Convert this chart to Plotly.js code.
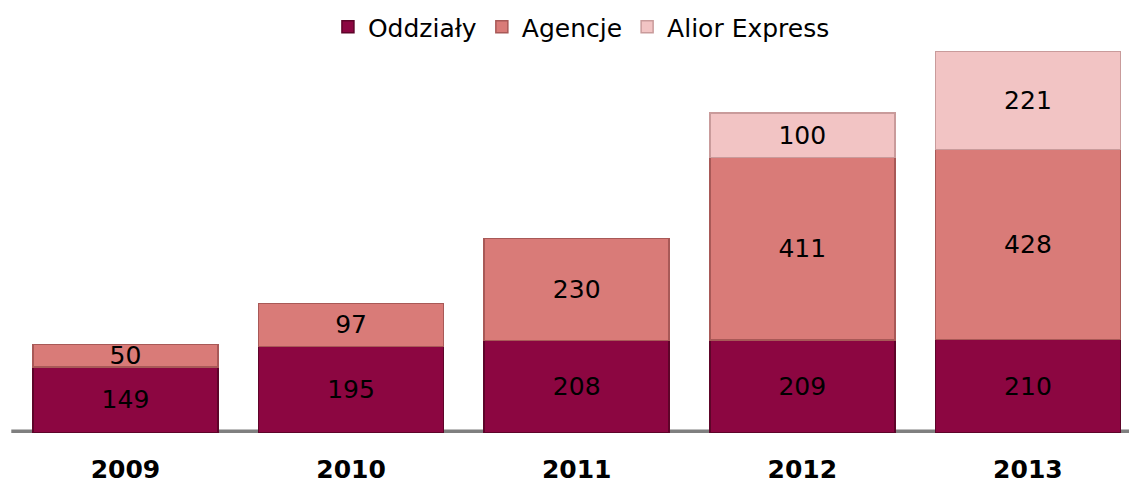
<!DOCTYPE html>
<html>
<head>
<meta charset="utf-8">
<script src="https://cdn.plot.ly/plotly-3.0.1.min.js"></script>
<style>html,body{margin:0;padding:0;background:#fff;}#chart{width:1129px;height:483px;}</style>
</head>
<body>
<div id="chart"></div>
<script>
const years = ["2009", "2010", "2011", "2012", "2013"];
const oddzialy = [149, 195, 208, 209, 210];
const agencje = [50, 97, 230, 411, 428];
const aliorExpress = [null, null, null, 100, 221];
const seriesNames = ["Oddziały", "Agencje", "Alior Express"];

const fills = ["#8C0641", "#D97B78", "#F2C4C4"];
const edges = ["#5E0429", "#A85957", "#C99B9B"];
const seriesVals = [oddzialy, agencje, aliorExpress];

const traces = seriesVals.map((vals, i) => ({
  type: "bar",
  name: seriesNames[i],
  x: years,
  y: vals,
  width: 0.82,
  marker: {color: fills[i], line: {color: edges[i], width: 1.5}},
  text: vals.map(v => v == null ? "" : String(v)),
  textposition: "inside",
  insidetextanchor: "middle",
  textangle: 0,
  constraintext: "none",
  textfont: {family: "DejaVu Sans, Verdana, sans-serif", size: 25, color: "#000"},
  hoverinfo: "skip"
}));

const layout = {
  width: 1129,
  height: 483,
  barmode: "stack",
  bargap: 0.18,
  margin: {l: 0, r: 0, t: 50, b: 50},
  paper_bgcolor: "#fff",
  plot_bgcolor: "#fff",
  showlegend: true,
  legend: {
    orientation: "h",
    x: 0.515, xanchor: "center",
    y: 1.06, yanchor: "middle",
    font: {family: "DejaVu Sans, Verdana, sans-serif", size: 25, color: "#000"},
    itemwidth: 30,
    tracegroupgap: 0,
    traceorder: "normal"
  },
  xaxis: {
    type: "category",
    range: [-0.556, 4.448],
    showgrid: false,
    zeroline: false,
    showline: false,
    ticks: "outside",
    ticklen: 14,
    tickcolor: "rgba(0,0,0,0)",
    tickfont: {family: "DejaVu Sans, Verdana, sans-serif", size: 25, color: "#000", weight: "bold"}
  },
  yaxis: {
    range: [0, 862],
    visible: false,
    showgrid: false,
    zeroline: false
  },
  shapes: [{
    type: "line",
    xref: "paper", yref: "y",
    x0: 0.01, x1: 1, y0: 0, y1: 0,
    line: {color: "#7F7F7F", width: 7},
    layer: "below"
  }]
};

Plotly.newPlot("chart", traces, layout, {displayModeBar: false, staticPlot: true});
</script>
</body>
</html>
